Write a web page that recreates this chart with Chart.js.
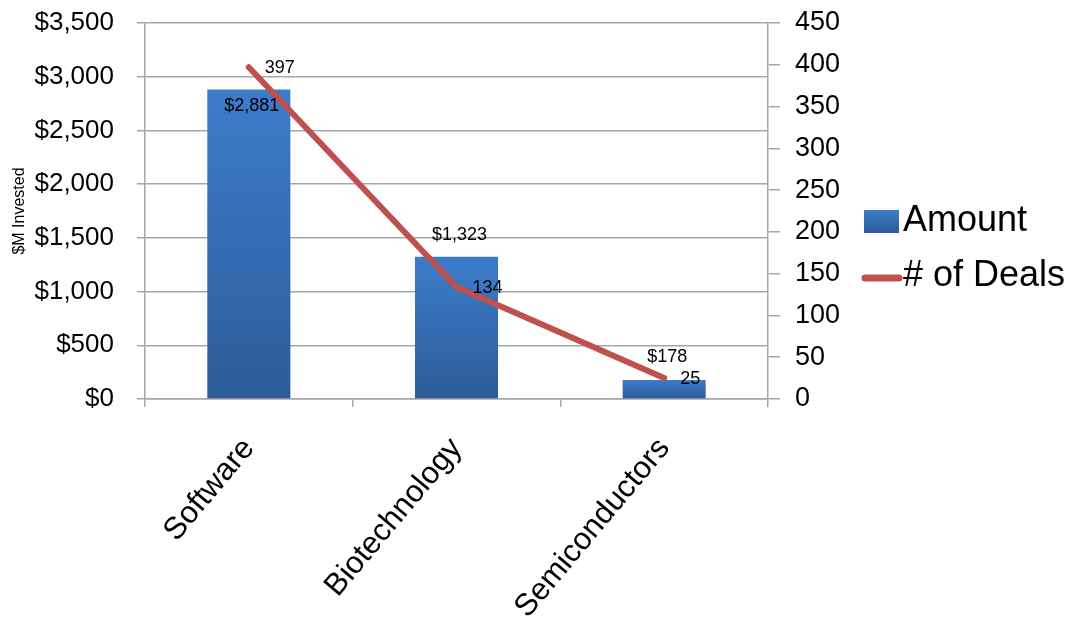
<!DOCTYPE html>
<html>
<head>
<meta charset="utf-8">
<title>Investment by industry</title>
<script src="https://cdn.jsdelivr.net/npm/chart.js@4"></script>
<style>
  html, body { margin: 0; padding: 0; background: #fff; }
  #wrap { width: 1071px; height: 629px; }
</style>
</head>
<body>
<div id="wrap"><canvas id="chart" width="1071" height="629"></canvas></div>
<script>
const industries = ['Software', 'Biotechnology', 'Semiconductors']
const amountInvested = [2881, 1323, 178]
const dealCount = [397, 134, 25]
const amountTicks = [0, 500, 1000, 1500, 2000, 2500, 3000, 3500]
const dealTicks = [0, 50, 100, 150, 200, 250, 300, 350, 400, 450]

const FONT = "'Liberation Sans', Arial, sans-serif"
const GRID = '#a6a6a6'
const RED = '#c0504d'

const money = (v) => '$' + v.toLocaleString('en-US')

function barGradient(ctx) {
  const chart = ctx.chart
  if (!chart.chartArea || ctx.type !== 'data') return '#3a72bd'
  const y = chart.scales.y
  const top = y.getPixelForValue(ctx.raw)
  const bottom = y.getPixelForValue(0)
  const g = chart.ctx.createLinearGradient(0, top, 0, bottom)
  g.addColorStop(0, '#3d7ccb')
  g.addColorStop(1, '#2c5b98')
  return g
}

// fixed axis width; drop the extra top/bottom room the tick padding asks for
const fixWidth = (w) => (scale) => {
  scale.width = w
  scale.paddingTop = 0
  scale.paddingBottom = 0
}

// value labels: bars get a dollar label, the deals line a plain count
const barLabelDy = [17, -22, -23]
const valueLabels = {
  id: 'valueLabels',
  afterDatasetsDraw(chart) {
    const { ctx } = chart
    ctx.save()
    ctx.fillStyle = '#000'
    ctx.font = `18px ${FONT}`
    ctx.textBaseline = 'middle'

    chart.getDatasetMeta(0).data.forEach((bar, i) => {
      ctx.textAlign = 'center'
      ctx.fillText(money(amountInvested[i]), bar.x + 3, bar.y + barLabelDy[i])
    })
    chart.getDatasetMeta(1).data.forEach((pt, i) => {
      ctx.textAlign = 'left'
      ctx.fillText(String(dealCount[i]), pt.x + 16, pt.y + 1)
    })
    ctx.restore()
  },
}

// legend drawn to the right of the deals axis
const sideLegend = {
  id: 'sideLegend',
  afterDraw(chart) {
    const { ctx, chartArea } = chart
    const x0 = chartArea.right + 94
    ctx.save()
    const g = ctx.createLinearGradient(0, 210, 0, 233)
    g.addColorStop(0, '#3d7ccb')
    g.addColorStop(1, '#2c5b98')
    ctx.fillStyle = g
    ctx.fillRect(x0 + 2, 210, 35, 23)

    ctx.strokeStyle = RED
    ctx.lineWidth = 7
    ctx.lineCap = 'round'
    ctx.beginPath()
    ctx.moveTo(x0 + 3, 278)
    ctx.lineTo(x0 + 37, 278)
    ctx.stroke()

    ctx.fillStyle = '#000'
    ctx.font = `36px ${FONT}`
    ctx.textAlign = 'left'
    ctx.textBaseline = 'middle'
    ctx.fillText(chart.data.datasets[0].label, x0 + 41, 221)
    ctx.fillText(chart.data.datasets[1].label, x0 + 41, 276)
    ctx.restore()
  },
}

new Chart(document.getElementById('chart'), {
  data: {
    labels: industries,
    datasets: [
      {
        type: 'bar',
        label: 'Amount',
        data: amountInvested,
        yAxisID: 'y',
        backgroundColor: barGradient,
        borderWidth: 0,
        barPercentage: 0.4,
        categoryPercentage: 1,
        order: 2,
      },
      {
        type: 'line',
        label: '# of Deals',
        data: dealCount,
        yAxisID: 'y1',
        borderColor: RED,
        borderWidth: 6,
        borderCapStyle: 'round',
        borderJoinStyle: 'round',
        pointRadius: 0,
        tension: 0,
        order: 1,
      },
    ],
  },
  options: {
    responsive: false,
    animation: false,
    devicePixelRatio: 1,
    layout: { padding: { top: 23, right: 213, bottom: 0, left: 0 } },
    plugins: { legend: { display: false }, tooltip: { enabled: false } },
    scales: {
      x: {
        offset: true,
        grid: { offset: true, drawOnChartArea: false, drawTicks: true, tickLength: 8, color: GRID, lineWidth: 1.5 },
        border: { display: true, color: GRID, width: 1.5 },
        ticks: {
          color: '#000',
          font: { family: FONT, size: 31 },
          minRotation: 50,
          maxRotation: 50,
          padding: 24,
        },
        afterFit(scale) { scale.height = 230 },
      },
      y: {
        position: 'left',
        min: 0,
        max: 3500,
        afterBuildTicks(scale) { scale.ticks = amountTicks.map((value) => ({ value })) },
        grid: { color: GRID, lineWidth: 1.5, tickLength: 8 },
        border: { display: true, color: GRID, width: 1.5 },
        ticks: {
          color: '#000',
          font: { family: FONT, size: 26 },
          padding: 23,
          callback: (v) => money(v),
        },
        title: {
          display: true,
          text: '$M Invested',
          color: '#000',
          font: { family: FONT, size: 16 },
          padding: { top: 10, bottom: 0 },
        },
        afterFit: fixWidth(145),
      },
      y1: {
        position: 'right',
        min: 0,
        max: 450,
        afterBuildTicks(scale) { scale.ticks = dealTicks.map((value) => ({ value })) },
        grid: { drawOnChartArea: false, color: GRID, lineWidth: 1.5, tickLength: 12 },
        border: { display: true, color: GRID, width: 1.5 },
        ticks: {
          color: '#000',
          font: { family: FONT, size: 27 },
          padding: 15,
        },
        afterFit: fixWidth(90),
      },
    },
  },
  plugins: [valueLabels, sideLegend],
})
</script>
</body>
</html>
